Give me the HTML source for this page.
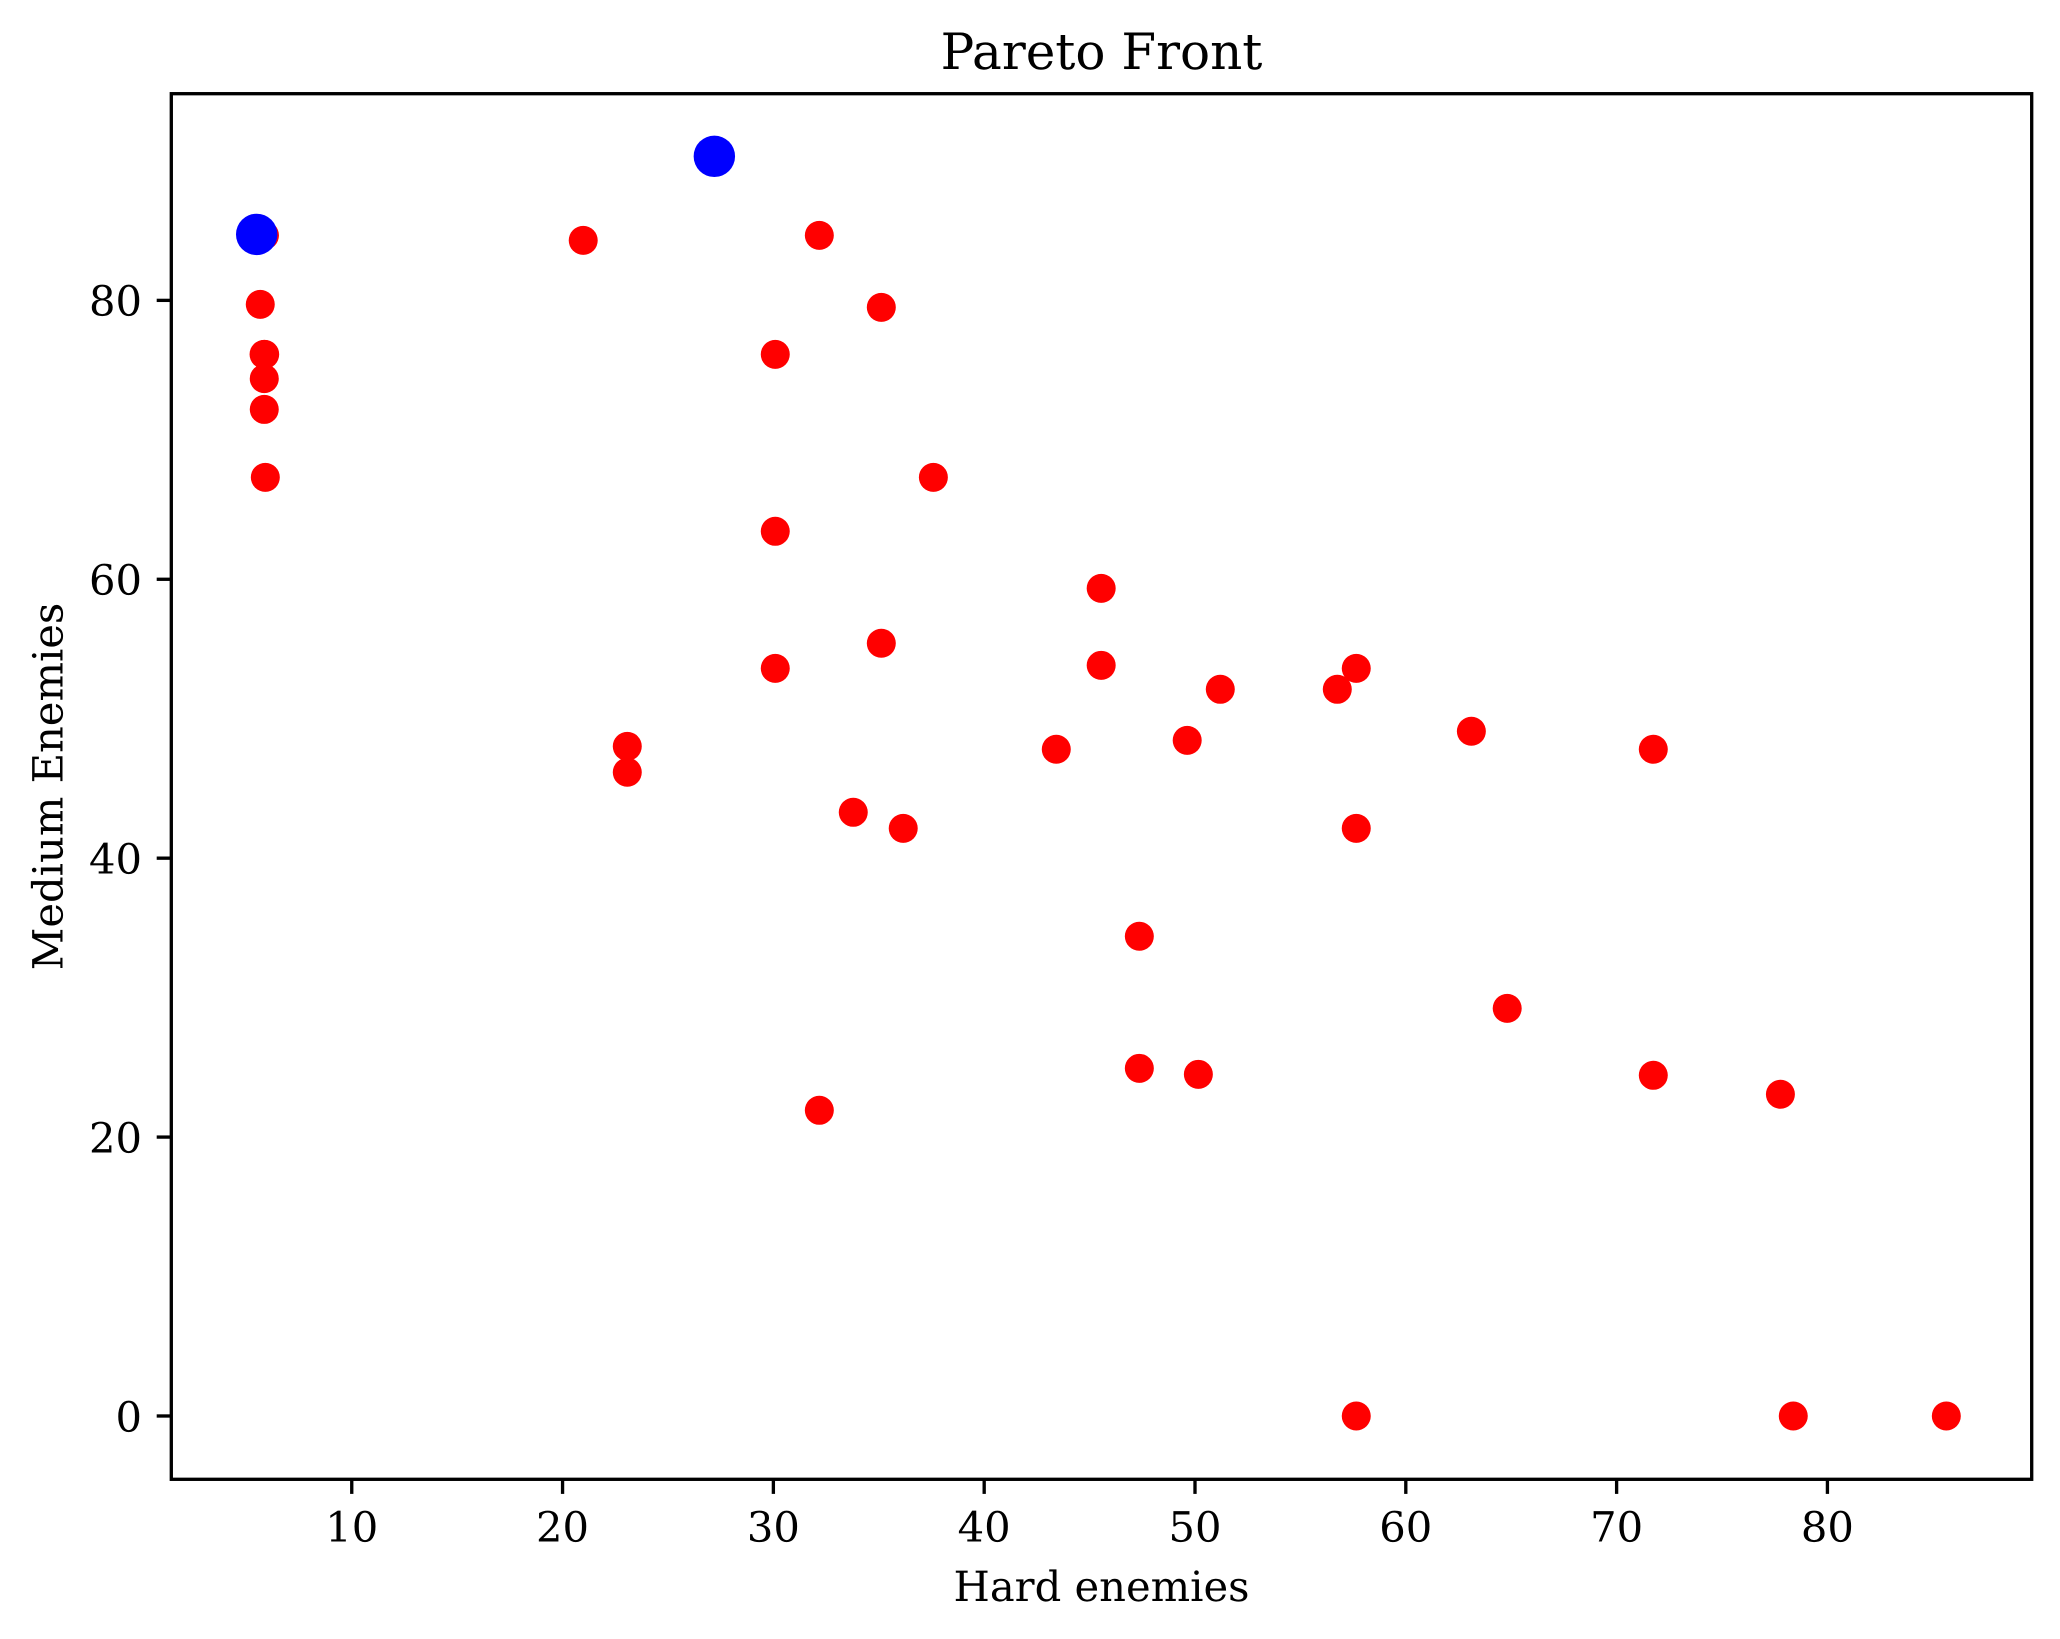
<!DOCTYPE html>
<html lang="en">
<head>
<meta charset="utf-8">
<title>Pareto Front</title>
<style>
  html, body { margin: 0; padding: 0; background: #ffffff; }
  body { width: 2060px; height: 1639px; overflow: hidden; }
  svg { display: block; }
  text { font-family: "DejaVu Serif", "Liberation Serif", serif; fill: #000000; text-rendering: geometricPrecision; }
  .tick-label { font-size: 41.67px; }
  .axis-label { font-size: 41.67px; }
  .chart-title { font-size: 50px; }
</style>
</head>
<body>
<svg id="chart" xmlns="http://www.w3.org/2000/svg" width="2060" height="1639" viewBox="0 0 2060 1639">
  <rect x="0" y="0" width="2060" height="1639" fill="#ffffff"/>
  <g id="dominated-points"></g>
  <g id="pareto-points"></g>
  <rect x="171.3" y="93.7" width="1860.4" height="1385.6" fill="none" stroke="#000000" stroke-width="3.33" stroke-linejoin="miter"/>
  <g id="x-axis"></g>
  <g id="y-axis"></g>
  <text class="chart-title" x="1101.5" y="69" text-anchor="middle">Pareto Front</text>
  <text class="axis-label" x="1101.5" y="1601" text-anchor="middle">Hard enemies</text>
  <text class="axis-label" transform="translate(62.7 786.5) rotate(-90)" x="0" y="0" text-anchor="middle">Medium Enemies</text>
</svg>
<script>
const xTicks = [10, 20, 30, 40, 50, 60, 70, 80];
const yTicks = [0, 20, 40, 60, 80];
const xDomain = [1.44, 89.69];
const yDomain = [-4.54, 94.82];

const dominatedHard = [
  5.86, 5.66, 5.84, 5.87, 5.85, 5.85, 5.90,
  20.98, 32.18, 35.12, 30.09, 37.59, 30.09, 45.55, 35.12, 30.09, 45.55,
  57.65, 51.20, 56.75, 63.11, 49.63, 43.42, 71.74, 23.07, 23.07, 33.79,
  36.16, 57.65, 47.36, 64.81, 47.36, 50.16, 71.74, 77.77, 32.18,
  57.65, 78.38, 85.64
];
const dominatedMedium = [
  84.66, 79.71, 76.13, 76.13, 74.39, 72.18, 67.31,
  84.30, 84.66, 79.50, 76.13, 67.31, 63.44, 59.35, 55.41, 53.61, 53.83,
  53.61, 52.11, 52.11, 49.10, 48.45, 47.81, 47.81, 48.02, 46.16, 43.29,
  42.14, 42.14, 34.40, 29.23, 24.93, 24.50, 24.43, 23.07, 21.92,
  0, 0, 0
];
const paretoHard = [5.49, 27.20];
const paretoMedium = [84.73, 90.33];

const NS = 'http://www.w3.org/2000/svg';
const plotLeft = 171.3;
const plotRight = 2031.7;
const plotTop = 93.7;
const plotBottom = 1479.3;
const tickLength = 14.6;

function xScale(v) {
  return plotLeft + (v - xDomain[0]) / (xDomain[1] - xDomain[0]) * (plotRight - plotLeft);
}
function yScale(v) {
  return plotBottom - (v - yDomain[0]) / (yDomain[1] - yDomain[0]) * (plotBottom - plotTop);
}

const dominatedGroup = document.getElementById('dominated-points');
dominatedHard.forEach(function (hard, i) {
  const dot = document.createElementNS(NS, 'circle');
  
  
  dot.setAttribute('cx', xScale(hard));
  dot.setAttribute('cy', yScale(dominatedMedium[i]));
  dot.setAttribute('r', 14.5);
  dot.setAttribute('fill', '#ff0000');
  dominatedGroup.appendChild(dot);
});

const paretoGroup = document.getElementById('pareto-points');
paretoHard.forEach(function (hard, i) {
  const dot = document.createElementNS(NS, 'circle');
  
  
  dot.setAttribute('cx', xScale(hard));
  dot.setAttribute('cy', yScale(paretoMedium[i]));
  dot.setAttribute('r', 20.7);
  dot.setAttribute('fill', '#0000ff');
  paretoGroup.appendChild(dot);
});

const xAxisGroup = document.getElementById('x-axis');
xTicks.forEach(function (value) {
  const px = xScale(value);
  const mark = document.createElementNS(NS, 'line');
  
  
  mark.setAttribute('x1', px);
  mark.setAttribute('x2', px);
  mark.setAttribute('y1', plotBottom);
  mark.setAttribute('y2', plotBottom + tickLength);
  mark.setAttribute('stroke', '#000000');
  mark.setAttribute('stroke-width', 3.33);
  xAxisGroup.appendChild(mark);
  const label = document.createElementNS(NS, 'text');
  
  
  label.setAttribute('class', 'tick-label');
  label.setAttribute('x', px);
  label.setAttribute('y', 1541.6);
  label.setAttribute('text-anchor', 'middle');
  label.textContent = String(value);
  xAxisGroup.appendChild(label);
});

const yAxisGroup = document.getElementById('y-axis');
yTicks.forEach(function (value) {
  const py = yScale(value);
  const mark = document.createElementNS(NS, 'line');
  
  
  mark.setAttribute('x1', plotLeft - tickLength);
  mark.setAttribute('x2', plotLeft);
  mark.setAttribute('y1', py);
  mark.setAttribute('y2', py);
  mark.setAttribute('stroke', '#000000');
  mark.setAttribute('stroke-width', 3.33);
  yAxisGroup.appendChild(mark);
  const label = document.createElementNS(NS, 'text');
  
  
  label.setAttribute('class', 'tick-label');
  label.setAttribute('x', 142);
  label.setAttribute('y', py + 15.3);
  label.setAttribute('text-anchor', 'end');
  label.textContent = String(value);
  yAxisGroup.appendChild(label);
});
</script>
</body>
</html>
